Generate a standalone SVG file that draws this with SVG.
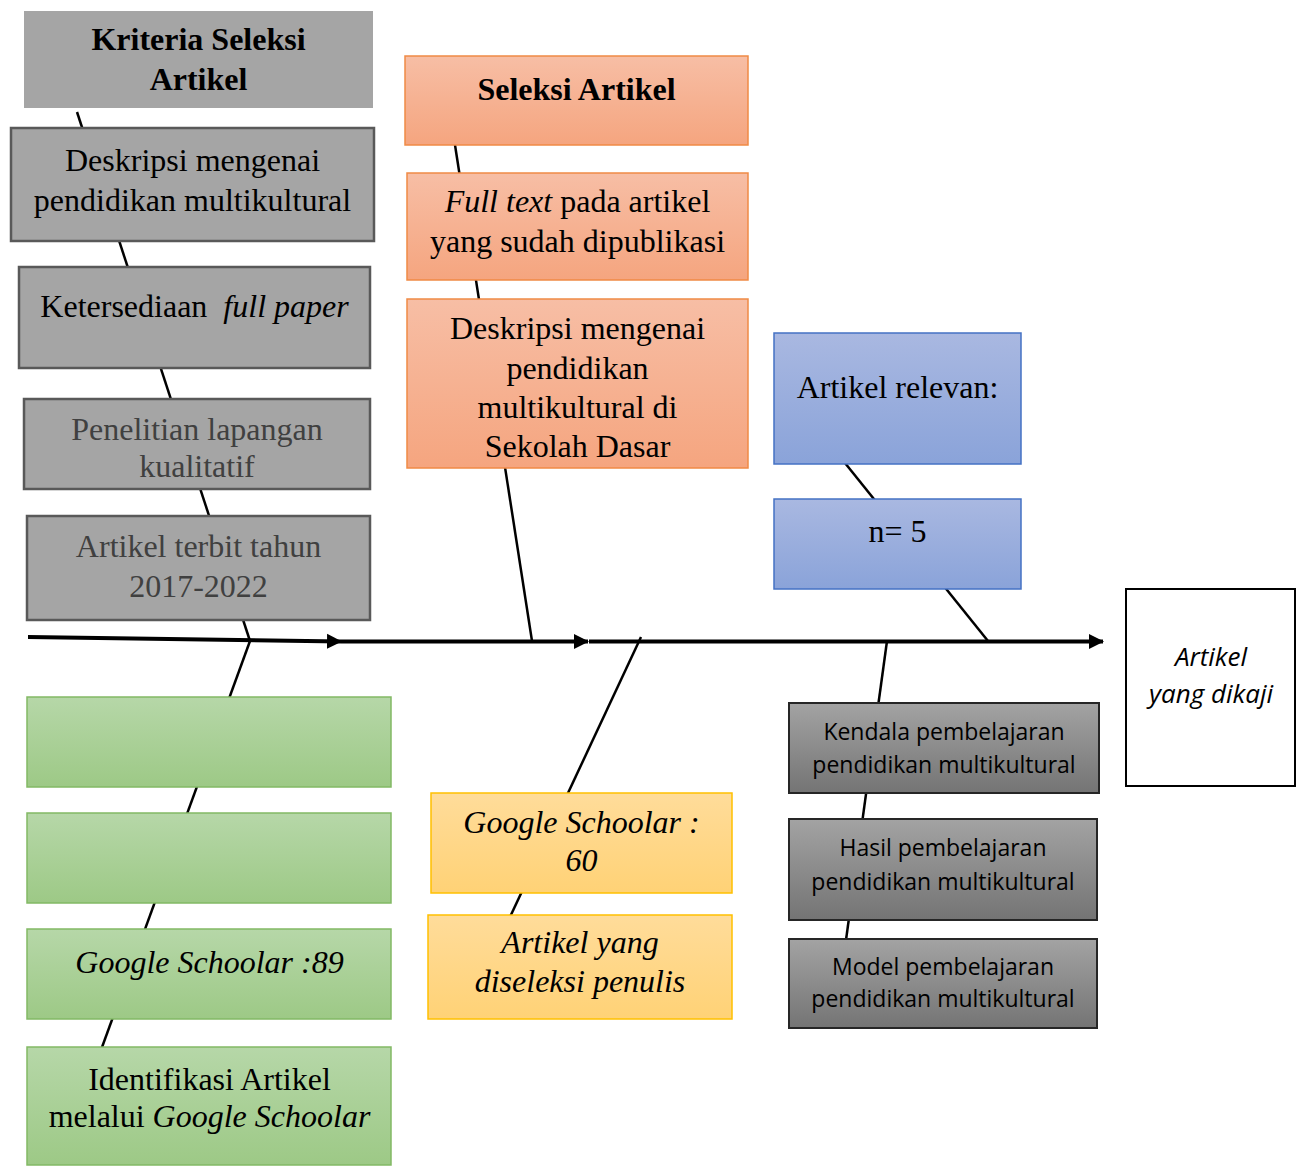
<svg xmlns="http://www.w3.org/2000/svg" width="1301" height="1166" viewBox="0 0 1301 1166">
<defs>
<linearGradient id="gOrange" x1="0" y1="0" x2="0" y2="1"><stop offset="0" stop-color="#f7bea5"/><stop offset="1" stop-color="#f5a57f"/></linearGradient>
<linearGradient id="gGreen" x1="0" y1="0" x2="0" y2="1"><stop offset="0" stop-color="#b6d7a8"/><stop offset="1" stop-color="#9dc986"/></linearGradient>
<linearGradient id="gYellow" x1="0" y1="0" x2="0" y2="1"><stop offset="0" stop-color="#ffdc9a"/><stop offset="1" stop-color="#ffd276"/></linearGradient>
<linearGradient id="gBlue" x1="0" y1="0" x2="0" y2="1"><stop offset="0" stop-color="#a9b8e1"/><stop offset="1" stop-color="#8aa3d9"/></linearGradient>
<linearGradient id="gDark" x1="0" y1="0" x2="0" y2="1"><stop offset="0" stop-color="#a3a3a3"/><stop offset="1" stop-color="#747474"/></linearGradient>
<marker id="arr" markerUnits="userSpaceOnUse" markerWidth="16" markerHeight="16" refX="14" refY="8" orient="auto" viewBox="0 0 16 16">
<path d="M0,0.5 L15,8 L0,15.5 Z" fill="#000"/>
</marker>
<style>
.serif{font-family:"Liberation Serif","Times New Roman",serif;font-size:32px;fill:#000;text-anchor:middle;white-space:pre}
.b{font-weight:bold}
.i{font-style:italic}
.dim{fill:#404040}
.sans{font-family:"Open Sans","Noto Sans",sans-serif;font-size:23px;fill:#000;text-anchor:middle}
.out{font-family:"Open Sans","Noto Sans",sans-serif;font-size:26px;font-style:italic;fill:#000;text-anchor:middle}
.gray{fill:#a5a5a5;stroke:#595959;stroke-width:2.5}
.orange{fill:url(#gOrange);stroke:#f08a45;stroke-width:1.5}
.green{fill:url(#gGreen);stroke:#82b964;stroke-width:1.5}
.yellow{fill:url(#gYellow);stroke:#ffc000;stroke-width:1.5}
.blue{fill:url(#gBlue);stroke:#4472c4;stroke-width:1.5}
.dark{fill:url(#gDark);stroke:#262626;stroke-width:2}
.bone{stroke:#000;stroke-width:2.5;fill:none}
.spine{stroke:#000;stroke-width:4;fill:none}
</style>
</defs>
<rect width="1301" height="1166" fill="#fff"/>

<g id="connectors">
<line class="bone" x1="77" y1="112" x2="250" y2="641"/>
<line class="bone" x1="250" y1="641" x2="101" y2="1050"/>
<line class="bone" x1="455" y1="145" x2="532" y2="641"/>
<line class="bone" x1="641" y1="637" x2="510" y2="917"/>
<line class="bone" x1="845" y1="463" x2="988" y2="641"/>
<line class="bone" x1="887" y1="641" x2="846" y2="940"/>
<path class="spine" d="M28,637 L341,641.5" marker-end="url(#arr)"/>
<path class="spine" d="M341,641.5 L588,641.5" marker-end="url(#arr)"/>
<path class="spine" d="M589,641.5 L1103,641.5" marker-end="url(#arr)"/>
</g>

<g id="kriteria-header">
<rect x="24" y="11" width="349" height="97" fill="#a5a5a5"/>
<text class="serif b" x="198.5" y="50">Kriteria Seleksi</text>
<text class="serif b" x="198.5" y="90">Artikel</text>
</g>
<g id="kriteria-deskripsi">
<rect class="gray" x="11" y="128" width="363" height="113"/>
<text class="serif" x="192.5" y="171">Deskripsi mengenai</text>
<text class="serif" x="192.5" y="211">pendidikan multikultural</text>
</g>
<g id="kriteria-fullpaper">
<rect class="gray" x="19" y="267" width="351" height="101"/>
<text class="serif" x="194.5" y="317">Ketersediaan  <tspan class="i">full paper</tspan></text>
</g>
<g id="kriteria-penelitian">
<rect class="gray" x="24" y="399" width="346" height="90"/>
<text class="serif dim" x="197" y="440">Penelitian lapangan</text>
<text class="serif dim" x="197" y="477">kualitatif</text>
</g>
<g id="kriteria-tahun">
<rect class="gray" x="27" y="516" width="343" height="104"/>
<text class="serif dim" x="198.5" y="557">Artikel terbit tahun</text>
<text class="serif dim" x="198.5" y="597">2017-2022</text>
</g>

<g id="green-1">
<rect class="green" x="27" y="697" width="364" height="90"/>
</g>
<g id="green-2">
<rect class="green" x="27" y="813" width="364" height="90"/>
</g>
<g id="green-google89">
<rect class="green" x="27" y="929" width="364" height="90"/>
<text class="serif i" x="209.5" y="973">Google Schoolar :89</text>
</g>
<g id="green-identifikasi">
<rect class="green" x="27" y="1047" width="364" height="118"/>
<text class="serif" x="209.5" y="1090">Identifikasi Artikel</text>
<text class="serif" x="209.5" y="1127">melalui <tspan class="i">Google Schoolar</tspan></text>
</g>

<g id="seleksi-header">
<rect class="orange" x="405" y="56" width="343" height="89"/>
<text class="serif b" x="576.5" y="100">Seleksi Artikel</text>
</g>
<g id="seleksi-fulltext">
<rect class="orange" x="407" y="173" width="341" height="107"/>
<text class="serif" x="577.5" y="212"><tspan class="i">Full text</tspan> pada artikel</text>
<text class="serif" x="577.5" y="252">yang sudah dipublikasi</text>
</g>
<g id="seleksi-deskripsi">
<rect class="orange" x="407" y="299" width="341" height="169"/>
<text class="serif" x="577.5" y="339">Deskripsi mengenai</text>
<text class="serif" x="577.5" y="379">pendidikan</text>
<text class="serif" x="577.5" y="418">multikultural di</text>
<text class="serif" x="577.5" y="457">Sekolah Dasar</text>
</g>

<g id="yellow-google60">
<rect class="yellow" x="431" y="793" width="301" height="100"/>
<text class="serif i" x="581.5" y="833">Google Schoolar :</text>
<text class="serif i" x="581.5" y="871">60</text>
</g>
<g id="yellow-diseleksi">
<rect class="yellow" x="428" y="915" width="304" height="104"/>
<text class="serif i" x="580" y="953">Artikel yang</text>
<text class="serif i" x="580" y="992">diseleksi penulis</text>
</g>

<g id="blue-relevan">
<rect class="blue" x="774" y="333" width="247" height="131"/>
<text class="serif" x="897.5" y="398">Artikel relevan:</text>
</g>
<g id="blue-n5">
<rect class="blue" x="774" y="499" width="247" height="90"/>
<text class="serif" x="897.5" y="542">n= 5</text>
</g>

<g id="hasil-kendala">
<rect class="dark" x="789" y="703" width="310" height="90"/>
<text class="sans" x="944" y="740">Kendala pembelajaran</text>
<text class="sans" x="944" y="773">pendidikan multikultural</text>
</g>
<g id="hasil-hasil">
<rect class="dark" x="789" y="819" width="308" height="101"/>
<text class="sans" x="943" y="856">Hasil pembelajaran</text>
<text class="sans" x="943" y="890">pendidikan multikultural</text>
</g>
<g id="hasil-model">
<rect class="dark" x="789" y="939" width="308" height="89"/>
<text class="sans" x="943" y="975">Model pembelajaran</text>
<text class="sans" x="943" y="1007">pendidikan multikultural</text>
</g>

<g id="output">
<rect x="1126" y="589" width="169" height="197" fill="#fff" stroke="#000" stroke-width="2"/>
<text class="out" x="1211" y="666">Artikel</text>
<text class="out" x="1211" y="703">yang dikaji</text>
</g>
</svg>
